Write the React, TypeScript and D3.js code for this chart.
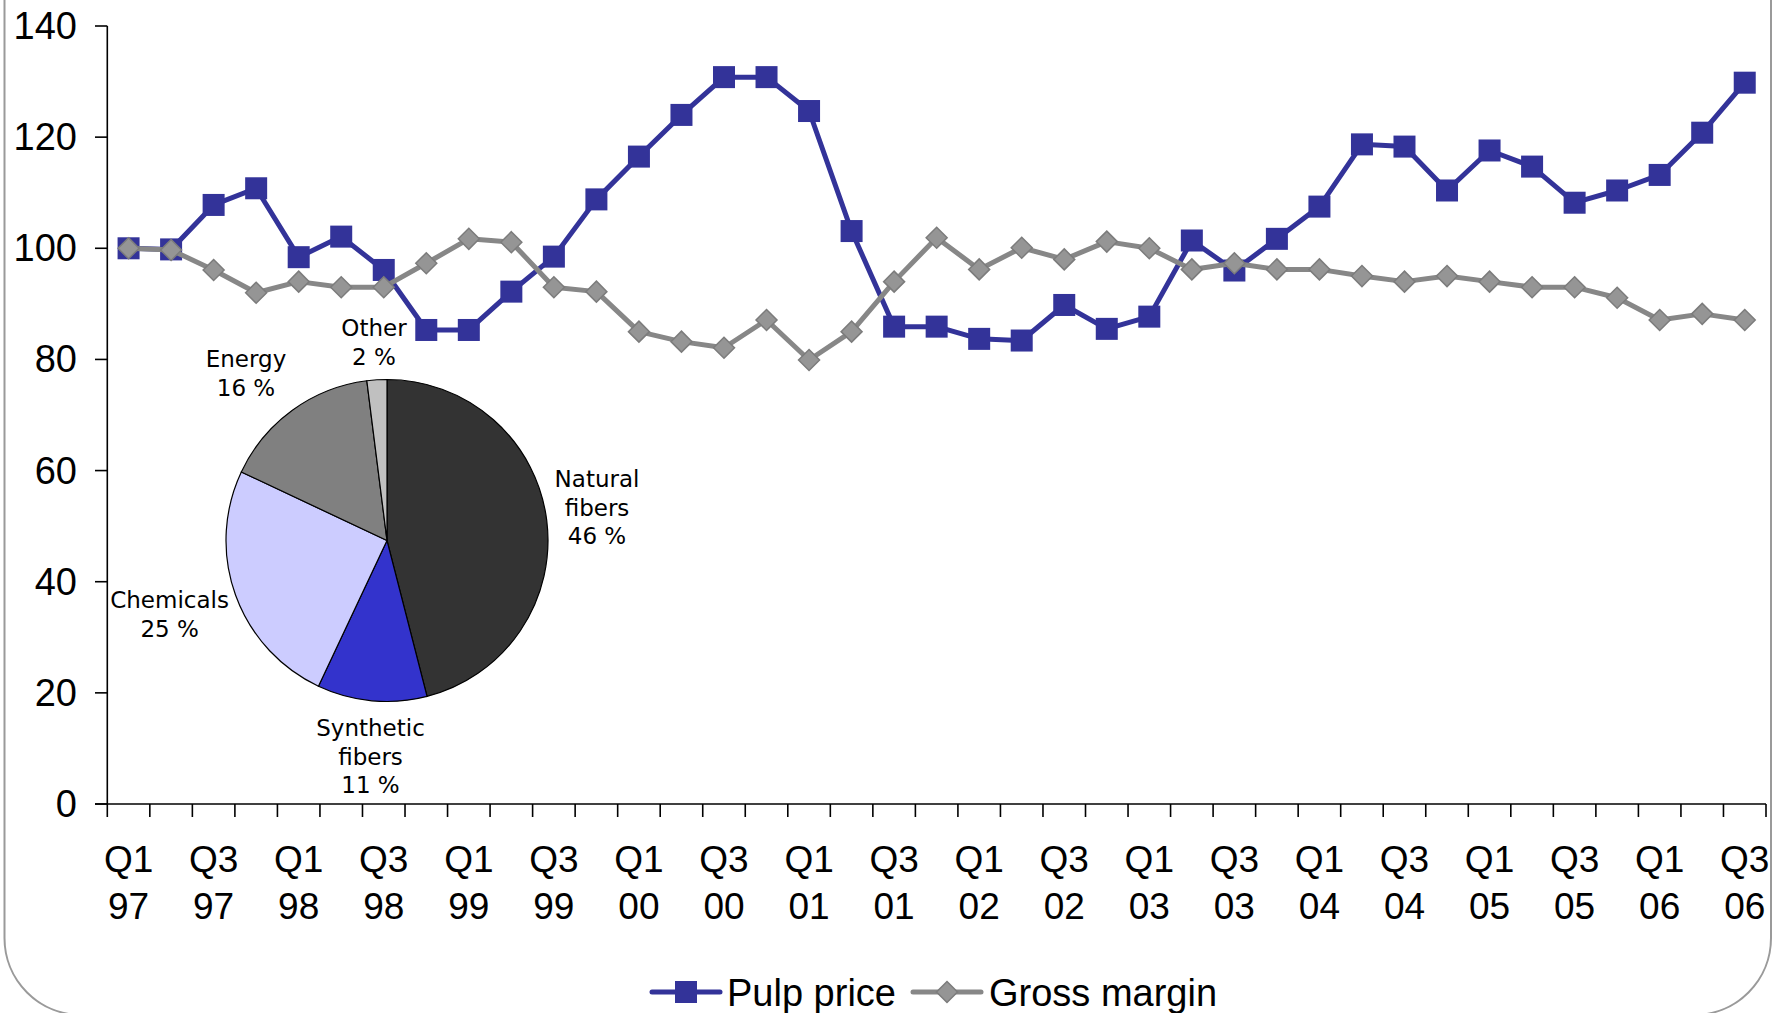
import React from 'react';
import * as d3 from 'd3';

const quarters = [
  'Q1 97', 'Q2 97', 'Q3 97', 'Q4 97', 'Q1 98', 'Q2 98', 'Q3 98', 'Q4 98',
  'Q1 99', 'Q2 99', 'Q3 99', 'Q4 99', 'Q1 00', 'Q2 00', 'Q3 00', 'Q4 00',
  'Q1 01', 'Q2 01', 'Q3 01', 'Q4 01', 'Q1 02', 'Q2 02', 'Q3 02', 'Q4 02',
  'Q1 03', 'Q2 03', 'Q3 03', 'Q4 03', 'Q1 04', 'Q2 04', 'Q3 04', 'Q4 04',
  'Q1 05', 'Q2 05', 'Q3 05', 'Q4 05', 'Q1 06', 'Q2 06', 'Q3 06',
];

const pulpPrice = [
  100, 99.8, 107.8, 110.8, 98.4, 102.1, 96.1, 85.3, 85.3, 92.2, 98.5, 108.8,
  116.5, 124.0, 130.8, 130.8, 124.7, 103.1, 85.9, 85.9, 83.7, 83.4, 89.8, 85.5,
  87.7, 101.4, 96.0, 101.7, 107.5, 118.7, 118.3, 110.4, 117.6, 114.7, 108.2,
  110.4, 113.2, 120.8, 129.8,
];

const grossMargin = [
  100, 99.7, 96.1, 92.0, 94.0, 93.0, 93.0, 97.3, 101.7, 101.1, 93.0, 92.2,
  85.0, 83.2, 82.1, 87.1, 79.9, 85.0, 94.0, 101.9, 96.2, 100.1, 98.0, 101.2,
  100.0, 96.2, 97.3, 96.2, 96.2, 95.0, 94.0, 95.0, 94.0, 93.0, 93.0, 91.1,
  87.1, 88.2, 87.1,
];

const yTicks = [0, 20, 40, 60, 80, 100, 120, 140];

const seriesNames = ['Pulp price', 'Gross margin'];

const pieCategories = ['Natural fibers', 'Synthetic fibers', 'Chemicals', 'Energy', 'Other'];
const pieValues = [46, 11, 25, 16, 2];
const pieLabelLines = [
  ['Natural', 'fibers', '46 %'],
  ['Synthetic', 'fibers', '11 %'],
  ['Chemicals', '25 %'],
  ['Energy', '16 %'],
  ['Other', '2 %'],
];

// ---- styling / layout ----
const W = 1772;
const H = 1013;
const PLOT = { left: 107.3, right: 1766, top: 26, bottom: 804 };
const BLUE = '#333399';
const GRAY_LINE = '#878787';
const GRAY_FILL = '#959595';
const GRAY_STROKE = '#7c7c7c';
const PIE_COLORS = ['#333333', '#3333cc', '#ccccff', '#808080', '#c0c0c0'];
const PIE = { cx: 387, cy: 540.5, r: 161 };
const PIE_LABEL_POS = [
  { x: 597, y: 486.7 },
  { x: 370.5, y: 735.7 },
  { x: 169.6, y: 608.3 },
  { x: 246, y: 367.3 },
  { x: 374, y: 336 },
];
const PIE_LINE_H = 28.8;
const AXIS_FONT = "Arial, 'Liberation Sans', sans-serif";
const PIE_FONT = "Verdana, 'DejaVu Sans', sans-serif";

export default function App() {
  const x = d3.scaleBand<string>().domain(quarters).range([PLOT.left, PLOT.right]).padding(0);
  const y = d3.scaleLinear().domain([0, 140]).range([PLOT.bottom, PLOT.top]);
  const cx = (q: string) => (x(q) as number) + x.bandwidth() / 2;

  const lineGen = d3
    .line<number>()
    .x((_, i) => cx(quarters[i]))
    .y((d) => y(d));

  const pieGen = d3.pie<number>().sort(null).value((d) => d);
  const arcs = pieGen(pieValues);
  const arcGen = d3.arc<d3.PieArcDatum<number>>().innerRadius(0).outerRadius(PIE.r);

  const sq = 11;
  const dm = 10.5;
  const diamondPath = (px: number, py: number) =>
    `M${px},${py - dm}L${px + dm},${py}L${px},${py + dm}L${px - dm},${py}Z`;

  const tickEdges = [...quarters.map((q) => x(q) as number), PLOT.right];

  const legendY = 992;

  return (
    <svg
      width={W}
      height={H}
      style={{ position: 'absolute', left: 0, top: 0, background: '#fff' }}
      xmlns="http://www.w3.org/2000/svg"
    >
      <rect x={0} y={0} width={W} height={H} fill="#fff" />
      {/* rounded frame */}
      <rect x={4.5} y={-100} width={1766.5} height={1115} rx={77} ry={77} fill="none" stroke="#9a9a9a" strokeWidth={2} />

      {/* Y axis */}
      <line x1={PLOT.left} x2={PLOT.left} y1={PLOT.top} y2={PLOT.bottom} stroke="#000" strokeWidth={1.6} />
      {yTicks.map((t) => (
        <g key={t}>
          <line x1={95} x2={PLOT.left} y1={y(t)} y2={y(t)} stroke="#000" strokeWidth={1.6} />
          <text
            x={77}
            y={y(t)}
            textAnchor="end"
            dominantBaseline="central"
            fontFamily={AXIS_FONT}
            fontSize={38}
            fill="#000"
          >
            {t}
          </text>
        </g>
      ))}

      {/* X axis */}
      <line x1={95} x2={PLOT.right} y1={PLOT.bottom} y2={PLOT.bottom} stroke="#000" strokeWidth={1.6} />
      {tickEdges.map((tx, i) => (
        <line key={i} x1={tx} x2={tx} y1={PLOT.bottom} y2={PLOT.bottom + 13} stroke="#000" strokeWidth={1.6} />
      ))}
      {quarters.map((q, i) =>
        i % 2 === 0 ? (
          <text key={q} textAnchor="middle" fontFamily={AXIS_FONT} fontSize={37} fill="#000">
            <tspan x={cx(q)} y={872}>
              {q.split(' ')[0]}
            </tspan>
            <tspan x={cx(q)} y={919}>
              {q.split(' ')[1]}
            </tspan>
          </text>
        ) : null
      )}

      {/* Pulp price */}
      <path d={lineGen(pulpPrice) || ''} fill="none" stroke={BLUE} strokeWidth={5} strokeLinejoin="round" />
      {pulpPrice.map((v, i) => (
        <rect key={i} x={cx(quarters[i]) - sq} y={y(v) - sq} width={sq * 2} height={sq * 2} fill={BLUE} />
      ))}

      {/* Gross margin */}
      <path d={lineGen(grossMargin) || ''} fill="none" stroke={GRAY_LINE} strokeWidth={5} strokeLinejoin="round" />
      {grossMargin.map((v, i) => (
        <path key={i} d={diamondPath(cx(quarters[i]), y(v))} fill={GRAY_FILL} stroke={GRAY_STROKE} strokeWidth={1.5} />
      ))}

      {/* Pie */}
      <g transform={`translate(${PIE.cx},${PIE.cy})`}>
        {arcs.map((a, i) => (
          <path key={pieCategories[i]} d={arcGen(a) || ''} fill={PIE_COLORS[i]} stroke="#000" strokeWidth={1.2} />
        ))}
      </g>
      {pieLabelLines.map((lines, i) => (
        <text key={i} textAnchor="middle" fontFamily={PIE_FONT} fontSize={23} fill="#000">
          {lines.map((l, j) => (
            <tspan key={j} x={PIE_LABEL_POS[i].x} y={PIE_LABEL_POS[i].y + j * PIE_LINE_H}>
              {l}
            </tspan>
          ))}
        </text>
      ))}

      {/* Legend */}
      <line x1={652} x2={720} y1={legendY} y2={legendY} stroke={BLUE} strokeWidth={5} strokeLinecap="round" />
      <rect x={686 - sq} y={legendY - sq} width={sq * 2} height={sq * 2} fill={BLUE} />
      <text x={727} y={1006} fontFamily={AXIS_FONT} fontSize={38} fill="#000">
        {seriesNames[0]}
      </text>
      <line x1={913} x2={981} y1={legendY} y2={legendY} stroke={GRAY_LINE} strokeWidth={5} strokeLinecap="round" />
      <path d={diamondPath(947, legendY)} fill={GRAY_FILL} stroke={GRAY_STROKE} strokeWidth={1.5} />
      <text x={989} y={1006} fontFamily={AXIS_FONT} fontSize={38} fill="#000">
        {seriesNames[1]}
      </text>
    </svg>
  );
}
